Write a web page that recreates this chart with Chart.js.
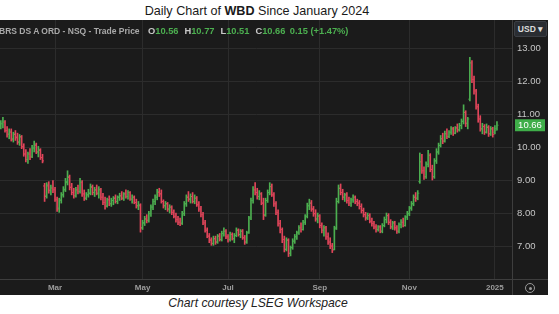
<!DOCTYPE html>
<html>
<head>
<meta charset="utf-8">
<script src="https://cdn.jsdelivr.net/npm/chart.js@4.4.1/dist/chart.umd.min.js"></script>
<style>
  html, body { margin: 0; padding: 0; background: #fff; width: 559px; height: 314px; overflow: hidden;
    font-family: "Liberation Sans", Arial, sans-serif; }
  #title { position: absolute; left: 0; top: 4px; width: 514px; text-align: center; font-size: 12.6px; color: #1a1a1a; }
  #panel { position: absolute; left: 0; top: 20px; width: 548px; height: 275px; background: #1b1b1b; overflow: hidden; }
  #chart { position: absolute; left: 0; top: 0; }
  #quote { position: absolute; left: -1px; top: 6px; font-size: 8.5px; font-weight: bold; color: #a9a9a9; white-space: nowrap; }
  #quote .k { color: #c8c8c8; margin-left: 6px; font-size: 9.3px; }
  #quote .g { color: #4caf50; font-size: 9.3px; }
  #quote #qChg { margin-left: 2px; }
  #usd { position: absolute; left: 514px; top: 1px; width: 31px; height: 14px; background: #2a2d32; border: 1px solid #3b3e44;
    border-radius: 2px; color: #dcdcdc; font-size: 8.5px; font-weight: bold; line-height: 14px; text-align: center; }
  #gear { position: absolute; left: 525px; top: 263px; width: 8px; height: 8px; border: 1.5px solid #9a9a9a; border-radius: 50%; }
  #gear::after { content: ""; position: absolute; left: 2.5px; top: 2.5px; width: 3px; height: 3px; background: #9a9a9a; border-radius: 50%; }
  #caption { position: absolute; left: 0; top: 296px; width: 516px; text-align: center; font-style: italic; font-size: 12.2px; color: #222; }
</style>
</head>
<body>
<div id="title">Daily Chart of <b>WBD</b> Since January 2024</div>
<div id="panel">
  <canvas id="chart" width="548" height="275"></canvas>
  <div id="quote"><span>BRS DS A ORD - NSQ - Trade Price</span> <span class="k">O</span><span class="g" id="qO"></span><span class="k">H</span><span class="g" id="qH"></span><span class="k">L</span><span class="g" id="qL"></span><span class="k">C</span><span class="g" id="qC"></span> <span class="g" id="qChg"></span></div>
  <div id="usd">USD ▾</div>
  <div id="gear"></div>
</div>
<div id="caption">Chart courtesy LSEG Workspace</div>
<script>
// Daily OHLC prices for WBD, 24 Jan 2024 – 3 Jan 2025 (one value per trading day)
const open = [
  10.62,10.70,10.75,10.50,10.40,10.45,10.25,10.38,10.30,10.15,
  10.30,10.00,9.80,9.62,9.78,9.72,9.95,10.05,9.85,9.90,
  9.68,8.82,8.52,8.82,8.70,8.75,8.70,8.40,8.15,8.40,
  8.55,8.70,8.92,9.08,8.78,8.62,8.52,8.70,8.65,8.92,
  8.58,8.45,8.55,8.60,8.78,8.62,8.70,8.60,8.70,8.48,
  8.32,8.22,8.40,8.28,8.38,8.45,8.35,8.48,8.52,8.45,
  8.58,8.50,8.62,8.42,8.48,8.32,8.22,8.22,7.55,7.70,
  7.82,7.78,7.98,8.18,8.35,8.48,8.62,8.58,8.35,8.22,
  8.28,8.12,8.18,8.02,7.90,7.80,7.72,7.70,7.98,8.28,
  8.48,8.42,8.50,8.35,8.45,8.25,8.12,7.95,7.70,7.48,
  7.30,7.18,7.08,7.22,7.12,7.30,7.20,7.38,7.45,7.28,
  7.20,7.35,7.22,7.32,7.48,7.35,7.45,7.25,7.12,7.40,
  7.85,8.38,8.70,8.62,8.50,8.58,8.30,7.95,8.38,8.62,
  8.80,8.55,8.28,8.02,7.68,7.50,7.20,6.90,7.18,6.78,
  6.95,7.15,7.28,7.40,7.55,7.50,7.72,7.90,8.22,8.30,
  8.12,7.98,7.82,7.90,7.62,7.48,7.55,7.28,7.12,7.00,
  6.90,7.55,8.35,8.75,8.62,8.48,8.55,8.38,8.30,8.40,
  8.48,8.35,8.30,8.20,8.08,7.95,7.85,7.92,7.75,7.68,
  7.58,7.50,7.58,7.45,7.62,7.80,7.92,7.72,7.58,7.70,
  7.55,7.45,7.65,7.72,7.62,7.88,7.98,8.15,8.28,8.48,
  8.45,8.95,9.55,9.28,9.10,9.48,9.75,9.32,9.10,9.58,
  9.85,10.05,10.25,10.18,10.40,10.32,10.45,10.55,10.42,10.58,
  10.52,10.65,10.78,11.05,10.72,11.45,12.55,12.05,11.70,11.22,
  10.85,10.55,10.62,10.45,10.60,10.40,10.55,10.45,10.56
];
const high = [
  10.80,10.90,10.80,10.62,10.55,10.55,10.45,10.50,10.42,10.38,
  10.35,10.10,9.92,9.85,9.95,10.05,10.18,10.12,10.02,9.95,
  9.78,8.90,8.92,8.95,8.85,8.98,8.78,8.48,8.45,8.62,
  8.80,9.05,9.28,9.15,8.90,8.75,8.78,8.85,9.05,8.98,
  8.70,8.62,8.72,8.88,8.85,8.78,8.85,8.80,8.75,8.60,
  8.48,8.45,8.52,8.45,8.50,8.55,8.52,8.60,8.65,8.62,
  8.70,8.68,8.65,8.55,8.52,8.42,8.35,8.28,7.78,7.90,
  7.95,8.05,8.25,8.42,8.55,8.72,8.75,8.70,8.40,8.35,
  8.32,8.25,8.22,8.10,8.00,7.90,7.85,8.05,8.35,8.55,
  8.65,8.58,8.62,8.55,8.50,8.35,8.20,8.02,7.78,7.55,
  7.38,7.25,7.30,7.30,7.35,7.38,7.45,7.55,7.50,7.35,
  7.42,7.40,7.38,7.55,7.52,7.50,7.50,7.32,7.45,7.90,
  8.45,8.80,8.92,8.75,8.68,8.62,8.45,8.45,8.70,8.92,
  8.88,8.62,8.35,8.10,7.78,7.55,7.30,7.25,7.22,7.00,
  7.22,7.35,7.45,7.62,7.70,7.78,7.95,8.30,8.42,8.38,
  8.20,8.10,8.00,7.95,7.70,7.62,7.60,7.40,7.25,7.08,
  7.60,8.45,8.85,8.88,8.72,8.60,8.62,8.48,8.45,8.55,
  8.52,8.42,8.38,8.28,8.15,8.02,8.00,7.98,7.85,7.75,
  7.65,7.62,7.62,7.68,7.88,8.00,7.98,7.80,7.75,7.75,
  7.62,7.70,7.80,7.85,7.92,8.05,8.20,8.35,8.55,8.62,
  8.68,9.82,9.78,9.40,9.55,9.90,9.80,9.45,9.65,9.95,
  10.12,10.35,10.42,10.48,10.55,10.50,10.62,10.60,10.62,10.70,
  10.72,10.85,11.28,11.10,10.90,12.72,12.62,12.15,11.75,11.30,
  10.95,10.72,10.68,10.70,10.65,10.62,10.60,10.65,10.77
];
const low = [
  10.55,10.58,10.45,10.30,10.25,10.18,10.15,10.20,10.08,10.05,
  9.95,9.72,9.55,9.50,9.62,9.68,9.85,9.80,9.70,9.62,
  9.52,8.35,8.45,8.60,8.55,8.62,8.35,8.05,8.02,8.30,
  8.48,8.65,8.85,8.70,8.55,8.45,8.48,8.58,8.60,8.50,
  8.38,8.40,8.48,8.55,8.55,8.50,8.55,8.45,8.40,8.25,
  8.12,8.18,8.22,8.20,8.25,8.30,8.28,8.38,8.40,8.38,
  8.45,8.42,8.38,8.30,8.28,8.15,8.10,7.42,7.50,7.62,
  7.70,7.72,7.90,8.10,8.25,8.40,8.50,8.30,8.15,8.10,
  8.05,8.00,7.95,7.85,7.72,7.65,7.62,7.65,7.92,8.20,
  8.35,8.30,8.30,8.28,8.20,8.05,7.88,7.65,7.42,7.25,
  7.10,7.02,7.02,7.05,7.08,7.15,7.15,7.30,7.22,7.12,
  7.15,7.18,7.10,7.28,7.30,7.25,7.20,7.05,7.08,7.38,
  7.80,8.30,8.55,8.42,8.40,8.25,7.80,7.90,8.32,8.55,
  8.50,8.20,7.95,7.60,7.40,7.10,6.82,6.85,6.68,6.70,
  6.90,7.08,7.20,7.35,7.42,7.48,7.65,7.85,8.10,8.05,
  7.90,7.75,7.70,7.55,7.40,7.30,7.20,7.05,6.92,6.80,
  6.88,7.50,8.30,8.55,8.40,8.35,8.30,8.22,8.20,8.32,
  8.28,8.22,8.12,8.00,7.88,7.78,7.80,7.70,7.60,7.52,
  7.42,7.45,7.40,7.40,7.58,7.70,7.65,7.52,7.50,7.48,
  7.38,7.40,7.55,7.58,7.60,7.80,7.92,8.08,8.22,8.35,
  8.40,8.90,9.20,9.02,9.05,9.40,9.25,9.00,9.05,9.50,
  9.78,10.00,10.10,10.15,10.25,10.28,10.38,10.35,10.40,10.45,
  10.48,10.55,10.70,10.62,10.55,11.40,11.95,11.60,11.15,10.75,
  10.48,10.40,10.38,10.42,10.32,10.35,10.30,10.40,10.51
];
const close = [
  10.72,10.78,10.50,10.38,10.48,10.22,10.40,10.28,10.15,10.32,
  10.02,9.78,9.62,9.80,9.70,9.98,10.08,9.85,9.92,9.68,
  9.58,8.50,8.85,8.68,8.78,8.72,8.42,8.12,8.38,8.55,
  8.72,8.95,9.10,8.78,8.62,8.52,8.70,8.65,8.95,8.58,
  8.45,8.55,8.60,8.80,8.62,8.70,8.60,8.72,8.48,8.32,
  8.20,8.40,8.28,8.38,8.45,8.35,8.48,8.52,8.45,8.58,
  8.50,8.62,8.42,8.48,8.32,8.22,8.25,7.55,7.70,7.82,
  7.78,7.98,8.18,8.35,8.48,8.65,8.58,8.35,8.22,8.28,
  8.12,8.18,8.02,7.90,7.80,7.72,7.68,7.98,8.28,8.48,
  8.42,8.50,8.35,8.45,8.25,8.12,7.95,7.70,7.48,7.30,
  7.18,7.08,7.22,7.12,7.30,7.20,7.38,7.45,7.28,7.20,
  7.35,7.22,7.32,7.48,7.35,7.45,7.25,7.12,7.40,7.85,
  8.38,8.70,8.62,8.50,8.58,8.30,7.92,8.38,8.62,8.80,
  8.55,8.28,8.02,7.68,7.50,7.20,6.90,7.18,6.78,6.95,
  7.15,7.28,7.40,7.55,7.50,7.72,7.90,8.22,8.30,8.12,
  7.98,7.82,7.92,7.62,7.48,7.55,7.28,7.12,7.00,6.88,
  7.52,8.35,8.75,8.62,8.48,8.55,8.38,8.30,8.40,8.48,
  8.35,8.30,8.20,8.08,7.95,7.85,7.92,7.75,7.68,7.58,
  7.50,7.58,7.45,7.62,7.80,7.92,7.72,7.58,7.70,7.55,
  7.45,7.65,7.72,7.62,7.88,7.98,8.15,8.28,8.48,8.45,
  8.60,9.55,9.28,9.10,9.48,9.75,9.32,9.10,9.58,9.85,
  10.05,10.25,10.18,10.40,10.32,10.45,10.55,10.42,10.58,10.52,
  10.65,10.78,11.05,10.72,10.85,12.55,12.05,11.70,11.22,10.85,
  10.55,10.62,10.45,10.60,10.40,10.55,10.38,10.51,10.66
];
const priceTicks = [7, 8, 9, 10, 11, 12, 13];
const dayChange = '0.15 (+1.47%)';

// Trading calendar: weekdays minus exchange holidays
const firstDay = '2024-01-24';
const holidays = ['2024-02-19', '2024-03-29', '2024-05-27', '2024-06-19', '2024-07-04',
                  '2024-09-02', '2024-11-28', '2024-12-25', '2025-01-01'];
const dates = [];
for (let d = new Date(firstDay + 'T00:00:00Z'); dates.length < close.length; d.setUTCDate(d.getUTCDate() + 1)) {
  const wd = d.getUTCDay();
  const iso = d.toISOString().slice(0, 10);
  if (wd === 0 || wd === 6 || holidays.includes(iso)) continue;
  dates.push(iso);
}

// Axis labels: first session of every other month, the new year shown as its number
const monthLabels = { '03': 'Mar', '05': 'May', '07': 'Jul', '09': 'Sep', '11': 'Nov' };
const dateTicks = dates
  .map((d, i) => i)
  .filter(i => i > 0 && dates[i].slice(5, 7) !== dates[i - 1].slice(5, 7) &&
               (monthLabels[dates[i].slice(5, 7)] || dates[i].slice(5, 7) === '01'));
const dateLabel = i => {
  const d = dates[Math.round(i)];
  if (!d) return '';
  const m = d.slice(5, 7);
  return m === '01' ? d.slice(0, 4) : monthLabels[m];
};

const UP = '#4caf50';
const DOWN = '#e0455a';
const barColor = i => (close[i] >= open[i] ? UP : DOWN);
const last = close.length - 1;

// Header quote line
document.getElementById('qO').textContent = open[last].toFixed(2);
document.getElementById('qH').textContent = high[last].toFixed(2);
document.getElementById('qL').textContent = low[last].toFixed(2);
document.getElementById('qC').textContent = close[last].toFixed(2);
document.getElementById('qChg').textContent = dayChange;

// Open (left) and close (right) ticks on each high-low bar
const ohlcTicks = {
  id: 'ohlcTicks',
  afterDatasetsDraw(chart) {
    const { ctx, chartArea: a, scales: { x, y } } = chart;
    ctx.save();
    ctx.beginPath();
    ctx.rect(a.left, a.top, a.width, a.height);
    ctx.clip();
    close.forEach((c, i) => {
      const px = x.getPixelForValue(i);
      ctx.fillStyle = barColor(i);
      ctx.fillRect(px - 1.5, y.getPixelForValue(open[i]) - 0.5, 1, 1);
      ctx.fillRect(px + 0.5, y.getPixelForValue(c) - 0.5, 1, 1);
    });
    ctx.restore();
  }
};

// Separator lines between plot, price axis and date axis
const frame = {
  id: 'frame',
  afterDraw(chart) {
    const { ctx, chartArea: a, width, height } = chart;
    ctx.save();
    ctx.strokeStyle = '#3e3e3e';
    ctx.lineWidth = 1;
    ctx.beginPath();
    ctx.moveTo(0, Math.round(a.bottom) + 0.5);
    ctx.lineTo(width, Math.round(a.bottom) + 0.5);
    ctx.moveTo(Math.round(a.right) - 0.5, 0);
    ctx.lineTo(Math.round(a.right) - 0.5, height);
    ctx.stroke();
    ctx.restore();
  }
};

// Last-price marker on the price axis
const lastPrice = {
  id: 'lastPrice',
  afterDraw(chart) {
    const { ctx, chartArea: a, scales: { y } } = chart;
    const py = y.getPixelForValue(close[last]);
    ctx.save();
    ctx.fillStyle = '#3fae49';
    ctx.fillRect(a.right + 2, py - 6, 30, 12);
    ctx.fillStyle = '#ffffff';
    ctx.font = '9.5px "Liberation Sans", Arial, sans-serif';
    ctx.textAlign = 'center';
    ctx.textBaseline = 'middle';
    ctx.fillText(close[last].toFixed(2), a.right + 17, py + 0.5);
    ctx.restore();
  }
};

new Chart(document.getElementById('chart'), {
  type: 'bar',
  data: {
    datasets: [{
      data: dates.map((d, i) => ({ x: i, y: [low[i], high[i]] })),
      backgroundColor: c => barColor(c.dataIndex),
      borderWidth: 0,
      barThickness: 1
    }]
  },
  options: {
    responsive: false,
    animation: false,
    events: [],
    layout: { padding: 0 },
    plugins: { legend: { display: false }, tooltip: { enabled: false } },
    scales: {
      x: {
        type: 'linear',
        offset: false,
        min: -0.4,
        max: 245.7,
        afterBuildTicks: s => { s.ticks = dateTicks.map(v => ({ value: v })); },
        afterFit: s => { s.height = 16; s.paddingLeft = 0; s.paddingRight = 0; },
        grid: { color: '#2c2c2c', drawTicks: false, offset: false },
        border: { display: false },
        ticks: {
          padding: 4, autoSkip: false, maxRotation: 0, color: '#9c9c9c',
          font: { family: '"Liberation Sans", Arial, sans-serif', size: 8, weight: 'bold' },
          callback: v => dateLabel(v)
        }
      },
      y: {
        position: 'right',
        min: 6,
        max: 13.85,
        afterBuildTicks: s => { s.ticks = priceTicks.map(v => ({ value: v })); },
        afterFit: s => { s.width = 35; s.paddingTop = 0; s.paddingBottom = 0; },
        grid: { color: '#2c2c2c', drawTicks: false },
        border: { display: false },
        ticks: {
          padding: 4, color: '#c6c6c6',
          font: { family: '"Liberation Sans", Arial, sans-serif', size: 9.5 },
          callback: v => Number(v).toFixed(2)
        }
      }
    }
  },
  plugins: [ohlcTicks, frame, lastPrice]
});
</script>
</body>
</html>
